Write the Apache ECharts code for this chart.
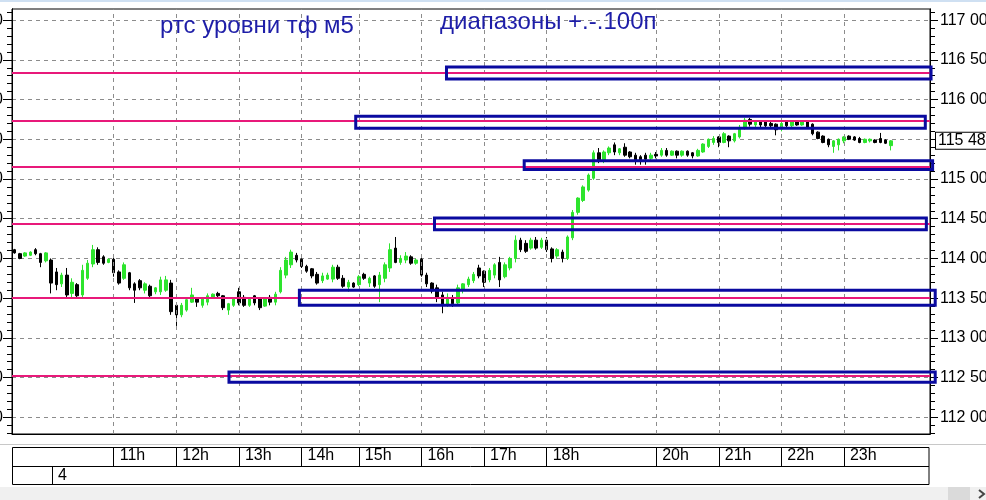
<!DOCTYPE html>
<html>
<head>
<meta charset="utf-8">
<title>RTS m5</title>
<script src="https://cdn.jsdelivr.net/npm/echarts@6/dist/echarts.min.js"></script>
<style>
html, body { margin: 0; padding: 0; background: #fff; }
#chart { width: 986px; height: 500px; }
</style>
</head>
<body>
<div id="chart"></div>
<script>
// 5-minute candles, one per slot (open, close, low, high)
const opens = [
  114110, 114060, 114030, 114040, 114110, 114060, 113970, 113980, 113830, 113680,
  113790, 113560, 113670, 113540, 113750, 113930, 114110, 114020, 113950, 113990,
  113830, 113750, 113820, 113680, 113720, 113600, 113650, 113580, 113580, 113600,
  113690, 113410, 113290, 113350, 113450, 113500, 113410, 113450, 113510, 113560,
  113530, 113350, 113410, 113580, 113510, 113410, 113530, 113500, 113400, 113510,
  113450, 113580, 113790, 113920, 114040, 113990, 113900, 113870, 113800, 113720,
  113740, 113740, 113890, 113750, 113640, 113690, 113670, 113800, 113690, 113780,
  113670, 113750, 113880, 114130, 113950, 113980, 114020, 113940, 113990, 113790,
  113690, 113630, 113540, 113410, 113500, 113440, 113600, 113670, 113720, 113880,
  113840, 113730, 113790, 113950, 113770, 113880, 114000, 114230, 114190, 114130,
  114230, 114140, 114230, 114120, 114030, 114080, 114000, 114260, 114580, 114730,
  114860, 115010, 115330, 115240, 115330, 115430, 115330, 115400, 115340, 115300,
  115280, 115300, 115260, 115310, 115300, 115360, 115300, 115350, 115300, 115350,
  115330, 115290, 115340, 115410, 115460, 115530, 115460, 115540, 115480, 115530,
  115640, 115750, 115680, 115730, 115720, 115700, 115690, 115630, 115720, 115670,
  115730, 115680, 115720, 115690, 115590, 115540, 115500, 115410, 115430, 115480,
  115540, 115530, 115510, 115460, 115480, 115490, 115510, 115490, 115420
];
const closes = [
  114070, 114000, 114070, 114080, 114060, 113950, 114070, 113690, 113670, 113790,
  113540, 113700, 113530, 113850, 113940, 114110, 113950, 113940, 113990, 113820,
  113690, 113920, 113630, 113600, 113630, 113680, 113530, 113630, 113730, 113730,
  113330, 113290, 113410, 113480, 113540, 113450, 113490, 113530, 113550, 113530,
  113380, 113430, 113490, 113440, 113410, 113500, 113440, 113380, 113490, 113450,
  113550, 113850, 113980, 114080, 113980, 113900, 113840, 113780, 113690, 113780,
  113790, 113890, 113750, 113650, 113700, 113640, 113770, 113750, 113750, 113650,
  113790, 113920, 114110, 113950, 114000, 114030, 113940, 113980, 113790, 113680,
  113590, 113500, 113410, 113510, 113430, 113630, 113680, 113740, 113800, 113780,
  113700, 113850, 113920, 113730, 113920, 114000, 114230, 114110, 114090, 114230,
  114130, 114230, 114110, 114000, 114110, 114000, 114270, 114580, 114760, 114900,
  115050, 115330, 115240, 115340, 115390, 115340, 115380, 115300, 115280, 115240,
  115240, 115250, 115300, 115290, 115360, 115300, 115350, 115300, 115350, 115300,
  115290, 115360, 115440, 115500, 115510, 115460, 115570, 115480, 115570, 115650,
  115740, 115690, 115730, 115680, 115670, 115670, 115620, 115700, 115670, 115730,
  115680, 115720, 115650, 115570, 115510, 115460, 115430, 115480, 115500, 115530,
  115500, 115490, 115460, 115500, 115500, 115460, 115460, 115450, 115480
];
const lows = [
  114060, 113990, 114020, 114030, 114040, 113890, 113950, 113560, 113600, 113640,
  113510, 113510, 113510, 113500, 113730, 113890, 113920, 113920, 113940, 113770,
  113670, 113730, 113600, 113440, 113600, 113560, 113510, 113550, 113540, 113580,
  113290, 113150, 113260, 113330, 113440, 113390, 113380, 113410, 113500, 113510,
  113350, 113290, 113390, 113410, 113390, 113390, 113410, 113350, 113390, 113410,
  113410, 113560, 113750, 113880, 113950, 113880, 113820, 113750, 113670, 113690,
  113730, 113700, 113730, 113630, 113580, 113630, 113650, 113730, 113640, 113630,
  113450, 113700, 113830, 113940, 113920, 113940, 113920, 113920, 113770, 113640,
  113560, 113450, 113310, 113390, 113390, 113410, 113560, 113640, 113690, 113750,
  113640, 113700, 113750, 113640, 113750, 113850, 113950, 114080, 114070, 114110,
  114110, 114120, 114080, 113950, 114000, 113950, 113980, 114230, 114550, 114710,
  114840, 114990, 115200, 115200, 115300, 115300, 115300, 115280, 115260, 115180,
  115180, 115180, 115240, 115260, 115280, 115280, 115290, 115260, 115280, 115280,
  115260, 115280, 115330, 115390, 115430, 115400, 115450, 115400, 115460, 115510,
  115620, 115660, 115650, 115650, 115640, 115640, 115550, 115600, 115650, 115650,
  115670, 115670, 115640, 115550, 115500, 115450, 115400, 115330, 115360, 115450,
  115490, 115480, 115450, 115450, 115460, 115450, 115450, 115440, 115360
];
const highs = [
  114120, 114070, 114080, 114090, 114130, 114070, 114080, 114000, 113880, 113820,
  113880, 113750, 113690, 113920, 113980, 114170, 114140, 114040, 114000, 114040,
  113850, 113950, 113830, 113700, 113740, 113700, 113670, 113640, 113770, 113780,
  113730, 113440, 113440, 113500, 113630, 113510, 113500, 113560, 113560, 113580,
  113540, 113440, 113510, 113630, 113540, 113510, 113540, 113510, 113510, 113540,
  113580, 113890, 114020, 114110, 114070, 114000, 113920, 113880, 113830, 113820,
  113820, 113920, 113920, 113790, 113730, 113700, 113790, 113820, 113770, 113790,
  113830, 113950, 114190, 114270, 114040, 114080, 114040, 114000, 114020, 113820,
  113700, 113670, 113580, 113560, 113540, 113670, 113690, 113770, 113830, 113920,
  113850, 113880, 113940, 114020, 113950, 114020, 114290, 114260, 114230, 114260,
  114270, 114260, 114270, 114140, 114130, 114110, 114290, 114610, 114770, 114920,
  115070, 115360, 115390, 115360, 115410, 115460, 115390, 115450, 115350, 115330,
  115300, 115330, 115330, 115340, 115390, 115390, 115360, 115360, 115360, 115360,
  115340, 115380, 115450, 115510, 115540, 115540, 115590, 115550, 115580, 115680,
  115770, 115770, 115740, 115740, 115730, 115720, 115700, 115720, 115730, 115740,
  115740, 115740, 115730, 115700, 115600, 115550, 115510, 115490, 115510, 115540,
  115550, 115540, 115530, 115510, 115510, 115500, 115580, 115500, 115490
];

// drawn levels and the +-100 point ranges around them
const levels = [116340, 115730, 115150, 114440, 113510, 112520];
const boxFrom = [82.8, 65.4, 97.7, 80.5, 54.6, 41.1];   // slot index
const boxTo = [175.7, 174.6, 176.0, 174.8, 176.5, 176.5];
const boxLow = [116260, 115640, 115120, 114360, 113410, 112440];
const boxHigh = [116410, 115790, 115230, 114510, 113600, 112570];

const gridTimes = ['11:00', '12:00', '13:00', '14:05', '15:00', '16:00', '17:00', '18:00', '20:00', '21:00', '22:00', '23:00'];
const hourLabels = ['11h', '12h', '13h', '14h', '15h', '16h', '17h', '18h', '20h', '21h', '22h', '23h'];
const majorTicks = [112000, 112500, 113000, 113500, 114000, 114500, 115000, 115500, 116000, 116500, 117000];

const yMin = 111790;
const yMax = 117140;
const slotCount = 176;

// session slots: morning/day, after day clearing, evening
function buildTimes() {
    const sessions = [[9 * 60 + 25, 13 * 60 + 55], [14 * 60 + 5, 18 * 60 + 45], [19 * 60 + 5, 24 * 60 + 55]];
    const out = [];
    sessions.forEach(([a, b]) => {
        for (let t = a; t <= b && out.length < slotCount; t += 5) {
            const h = Math.floor(t / 60) % 24;
            const m = t % 60;
            out.push(h + ':' + String(m).padStart(2, '0'));
        }
    });
    return out;
}
const times = buildTimes();

const minorTicks = [];
for (let v = 111800; v <= 117100; v += 100) {
    if (v % 500 !== 0) minorTicks.push(v);
}

const candles = opens.map((o, i) => [o, closes[i], lows[i], highs[i]]);
const boxes = levels.map((_, i) => [boxFrom[i], boxTo[i], boxLow[i], boxHigh[i]]);
const lastClose = closes[closes.length - 1];

const fmt = v => String(v).replace(/\B(?=(\d{3})+(?!\d))/g, ' ');
const quikFont = "'Liberation Sans Narrow', 'Liberation Sans', Arial, sans-serif";
const titleFont = '24px "Liberation Sans", Arial, sans-serif';
const green = '#2de42d';
const band = 918 / slotCount;
const isGridTime = (i, v) => gridTimes.indexOf(v) >= 0;

const chart = echarts.init(document.getElementById('chart'));

function yAxisDef(pos, ticks, len, labels) {
    return {
        type: 'value',
        gridIndex: 0,
        position: pos,
        min: yMin,
        max: yMax,
        axisLine: { show: true, onZero: false, lineStyle: { color: '#000' } },
        axisTick: { show: true, length: len, customValues: ticks, lineStyle: { color: '#000' } },
        axisLabel: labels ? {
            show: true,
            customValues: ticks,
            formatter: fmt,
            color: '#000',
            fontFamily: quikFont,
            fontSize: 16,
            margin: pos === 'right' ? 10 : 9
        } : { show: false },
        splitLine: { show: false }
    };
}

const right = yAxisDef('right', majorTicks, 8, true);
right.splitLine = { show: true, lineStyle: { type: [4, 4], color: '#8c8c8c', width: 1 } };

const option = {
    animation: false,
    backgroundColor: '#fff',
    grid: [
        {
            left: 12, right: 56, top: 9, bottom: 66,
            outerBoundsMode: 'none', containLabel: false,
            show: true, borderColor: '#000', borderWidth: 1, backgroundColor: '#fff'
        },
        {
            left: 12 + band / 2, right: 56 + band / 2, top: 447, height: 19,
            outerBoundsMode: 'none', containLabel: false
        }
    ],
    xAxis: [
        {
            type: 'category', gridIndex: 0, data: times, boundaryGap: true,
            axisLine: { onZero: false, lineStyle: { color: '#000' } },
            axisTick: { show: false }, axisLabel: { show: false }, splitLine: { show: false }
        },
        { type: 'value', gridIndex: 0, min: -0.5, max: slotCount - 0.5, show: false },
        {
            type: 'category', gridIndex: 1, data: times, boundaryGap: false,
            axisLine: { show: false }, axisTick: { show: false },
            axisLabel: {
                inside: true,
                interval: isGridTime,
                formatter: v => hourLabels[gridTimes.indexOf(v)],
                align: 'left',
                padding: [0, 0, 0, 6],
                margin: 2,
                color: '#000',
                fontFamily: quikFont,
                fontSize: 16
            },
            splitLine: { show: true, interval: isGridTime, lineStyle: { color: '#000', width: 1 } }
        }
    ],
    yAxis: [
        right,
        yAxisDef('right', minorTicks, 5, false),
        yAxisDef('left', majorTicks, 9, true),
        yAxisDef('left', minorTicks, 5, false),
        { type: 'value', gridIndex: 1, show: false }
    ],
    series: [
        {
            // vertical hour grid + the drawn levels
            type: 'line',
            xAxisIndex: 0,
            yAxisIndex: 0,
            data: [],
            z: 1,
            silent: true,
            markLine: {
                symbol: 'none',
                silent: true,
                animation: false,
                label: { show: false },
                data: gridTimes.map(t => ({ xAxis: t, lineStyle: { type: [4, 4], color: '#8c8c8c', width: 1 } }))
                    .concat(levels.map(v => ({ yAxis: v, lineStyle: { type: 'solid', color: '#e8197a', width: 2 } })))
            }
        },
        {
            type: 'candlestick',
            xAxisIndex: 0,
            yAxisIndex: 0,
            data: candles,
            barWidth: 3,
            z: 3,
            itemStyle: {
                color: green,
                color0: '#000',
                borderColor: green,
                borderColor0: '#000',
                borderWidth: 1
            }
        },
        {
            // last price box on the price scale
            type: 'line',
            xAxisIndex: 0,
            yAxisIndex: 0,
            data: [],
            z: 6,
            clip: false,
            silent: true,
            markLine: {
                symbol: 'none',
                silent: true,
                animation: false,
                data: [{
                    yAxis: lastClose,
                    lineStyle: { color: 'rgba(0,0,0,0)', width: 0 },
                    label: {
                        show: true,
                        position: 'end',
                        distance: 6,
                        formatter: () => fmt(lastClose),
                        color: '#000',
                        fontFamily: quikFont,
                        fontSize: 16,
                        lineHeight: 14,
                        backgroundColor: '#fff',
                        borderColor: '#000',
                        borderWidth: 1,
                        padding: [1, 6, 1, 2]
                    }
                }]
            }
        },
        {
            type: 'custom',
            xAxisIndex: 1,
            yAxisIndex: 0,
            data: boxes,
            encode: { x: [0, 1], y: [2, 3] },
            z: 5,
            silent: true,
            renderItem: (params, api) => {
                const p0 = api.coord([api.value(0), api.value(3)]);
                const p1 = api.coord([api.value(1), api.value(2)]);
                return {
                    type: 'rect',
                    shape: { x: p0[0], y: p0[1], width: p1[0] - p0[0], height: p1[1] - p0[1] },
                    style: { fill: 'none', stroke: '#0a0aa0', lineWidth: 3 }
                };
            }
        }
    ],
    graphic: [
        { type: 'rect', z: 0, shape: { x: 0, y: 0, width: 986, height: 2 }, style: { fill: '#cfe0f2' } },
        { type: 'line', z: 0, shape: { x1: 0, y1: 444.5, x2: 986, y2: 444.5 }, style: { stroke: '#c8c8c8', lineWidth: 1 } },
        { type: 'rect', z: 0, shape: { x: 12.5, y: 447.5, width: 916.5, height: 37 }, style: { fill: 'none', stroke: '#000', lineWidth: 1 } },
        { type: 'line', z: 0, shape: { x1: 12, y1: 466.5, x2: 929, y2: 466.5 }, style: { stroke: '#000', lineWidth: 1 } },
        { type: 'line', z: 0, shape: { x1: 52.5, y1: 466, x2: 52.5, y2: 484 }, style: { stroke: '#000', lineWidth: 1 } },
        { type: 'text', z: 10, style: { x: 58, y: 475.5, text: '4', font: '16px ' + quikFont, fill: '#000', verticalAlign: 'middle' } },
        { type: 'rect', z: 0, shape: { x: 0, y: 487, width: 986, height: 13 }, style: { fill: '#f0f0f0' } },
        { type: 'rect', z: 0, shape: { x: 948, y: 487, width: 22, height: 13 }, style: { fill: '#dadada' } },
        { type: 'polyline', z: 0, shape: { points: [[979, 490], [984, 494], [979, 498]] }, style: { fill: 'none', stroke: '#444', lineWidth: 2 } },
        { type: 'text', z: 10, style: { x: 160, y: 14.5, text: 'ртс уровни тф м5', font: titleFont, fill: '#1e1ea8' } },
        { type: 'text', z: 10, style: { x: 440, y: 10, text: 'диапазоны +.-.100п', font: titleFont, fill: '#1e1ea8' } }
    ]
};

option && chart.setOption(option);
</script>
</body>
</html>
